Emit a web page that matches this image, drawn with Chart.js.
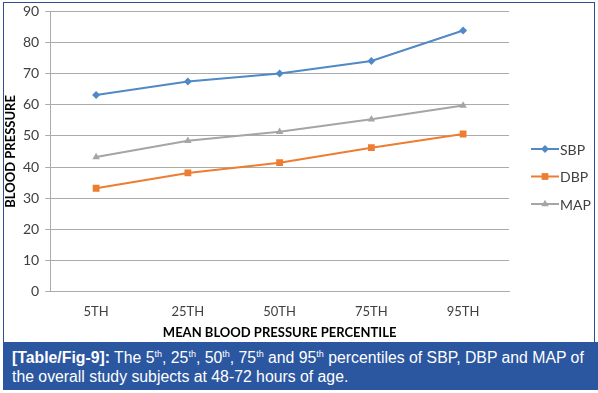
<!DOCTYPE html>
<html>
<head>
<meta charset="utf-8">
<script src="https://cdn.jsdelivr.net/npm/chart.js@4.4.1/dist/chart.umd.min.js"></script>
<style>
  html, body { margin: 0; padding: 0; background: #fff; }
  .frame { position: relative; width: 598px; height: 393px; overflow: hidden; background: #fff; }
  .chart-box {
    position: absolute; left: 3px; top: 2px; width: 592px; height: 340px;
    border: 1px solid #2d4f8f; border-bottom: none; box-sizing: border-box;
  }
  .chart-box canvas { display: block; }
  .caption {
    position: absolute; left: 3px; top: 342px; width: 595px; height: 48px;
    box-sizing: border-box; padding: 7px 0 0 9px;
    background: #2b56a0; color: #fff;
    font-family: "Liberation Sans", Arial, sans-serif; font-size: 15.8px; line-height: 18.7px;
  }
  .caption b { font-weight: bold; }
  .caption sup { font-size: 9px; line-height: 0; vertical-align: 6px; }
</style>
</head>
<body>
<div class="frame">
  <div class="chart-box"><canvas id="bp"></canvas></div>
  <div class="caption"><b>[Table/Fig-9]:</b> The 5<sup>th</sup>, 25<sup>th</sup>, 50<sup>th</sup>, 75<sup>th</sup> and 95<sup>th</sup> percentiles of SBP, DBP and MAP of<br>the overall study subjects at 48-72 hours of age.</div>
</div>

<script>
/* ── DATA ── */
const percentiles = ['5TH', '25TH', '50TH', '75TH', '95TH'];
const sbp = [63.1, 67.4, 70.0, 74.0, 83.8];
const dbp = [33.2, 38.1, 41.4, 46.2, 50.6];
const map = [43.2, 48.4, 51.3, 55.3, 59.7];
const yTicks = [0, 10, 20, 30, 40, 50, 60, 70, 80, 90];

const COLORS = { sbp: '#5089c6', dbp: '#ed7d31', map: '#a5a5a5', grid: '#ababab', text: '#404040' };
const FONT = 'Lato, "Open Sans", sans-serif';

/* ── SIDE LEGEND: line with the marker in its middle, Excel style ── */
const sideLegend = {
  id: 'sideLegend',
  afterDraw(chart, args, opts) {
    const { ctx } = chart;
    ctx.save();
    chart.data.datasets.forEach((ds, i) => {
      const y = opts.top + i * opts.rowGap;
      ctx.strokeStyle = ds.borderColor;
      ctx.lineWidth = 2;
      ctx.beginPath();
      ctx.moveTo(opts.left, y);
      ctx.lineTo(opts.left + opts.lineLen, y);
      ctx.stroke();
      ctx.fillStyle = ds.borderColor;
      Chart.helpers.drawPoint(ctx, { pointStyle: ds.pointStyle, radius: ds.pointRadius, rotation: 0, borderWidth: 0 },
        opts.left + opts.lineLen / 2, y);
      ctx.fillStyle = COLORS.text;
      ctx.font = '14px ' + FONT;
      ctx.textBaseline = 'middle';
      ctx.fillText(ds.label, opts.left + opts.lineLen + 1, y + 1);
    });
    ctx.restore();
  },
};

const series = [
  { label: 'SBP', data: sbp, color: COLORS.sbp, style: 'rectRot', radius: 4 },
  { label: 'DBP', data: dbp, color: COLORS.dbp, style: 'rect', radius: 4.8 },
  { label: 'MAP', data: map, color: COLORS.map, style: 'triangle', radius: 4.3 },
];

new Chart(document.getElementById('bp'), {
  type: 'line',
  data: {
    labels: percentiles,
    datasets: series.map(s => ({
      label: s.label, data: s.data,
      borderColor: s.color, backgroundColor: s.color,
      pointStyle: s.style, pointRadius: s.radius, pointBorderWidth: 0,
      pointBackgroundColor: s.color, borderWidth: 2, tension: 0,
    })),
  },
  plugins: [sideLegend],
  options: {
    responsive: true, maintainAspectRatio: false, animation: false,
    layout: { padding: { top: 0, right: 85, bottom: 1, left: 0 } },
    plugins: {
      legend: { display: false },
      tooltip: { enabled: false },
      sideLegend: { left: 527, top: 146, rowGap: 27.5, lineLen: 28 },
    },
    scales: {
      x: {
        offset: true,
        grid: { display: false, drawTicks: false },
        border: { display: true, color: COLORS.grid, width: 1 },
        ticks: { color: COLORS.text, font: { family: FONT, size: 13 }, padding: 12, maxRotation: 0 },
        title: { display: true, text: 'MEAN BLOOD PRESSURE PERCENTILE', color: '#000',
          font: { family: FONT, size: 13, weight: 'bold' }, padding: { top: -6, bottom: 0 } },
      },
      y: {
        min: 0, max: 90,
        afterBuildTicks: axis => { axis.ticks = yTicks.map(v => ({ value: v })); },
        grid: { color: COLORS.grid, lineWidth: 1, tickLength: 5, tickColor: COLORS.grid },
        border: { display: true, color: COLORS.grid, width: 1 },
        ticks: { color: COLORS.text, font: { family: FONT, size: 14, lineHeight: 0.3 }, padding: 6 },
        title: { display: true, text: 'BLOOD PRESSURE', color: '#000',
          font: { family: FONT, size: 13, weight: 'bold', lineHeight: 1 }, padding: { top: 0, bottom: 0 } },
      },
    },
  },
});
</script>
</body>
</html>
